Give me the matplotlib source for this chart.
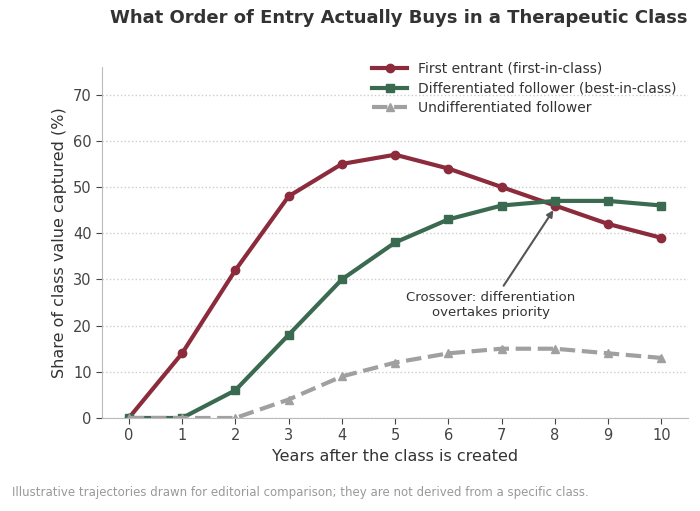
import matplotlib
matplotlib.use("Agg")
import matplotlib.pyplot as plt

years = list(range(11))
first_entrant = [0, 14, 32, 48, 55, 57, 54, 50, 46, 42, 39]
diff_follower = [0, 0, 6, 18, 30, 38, 43, 46, 47, 47, 46]
undiff_follower = [0, 0, 0, 4, 9, 12, 14, 15, 15, 14, 13]

fig = plt.figure(figsize=(7, 5.11), dpi=100)
ax = fig.add_axes([0.146, 0.182, 0.837, 0.687])

ax.plot(years, first_entrant, color="#8B2B3C", lw=3, marker="o", ms=6,
        label="First entrant (first-in-class)")
ax.plot(years, diff_follower, color="#3A6A50", lw=3, marker="s", ms=6,
        label="Differentiated follower (best-in-class)")
ax.plot(years, undiff_follower, color="#A0A0A0", lw=3, ls="--", marker="^", ms=6,
        label="Undifferentiated follower")

ax.set_xlim(-0.5, 10.5)
ax.set_ylim(0, 76)
ax.set_xticks(years)
ax.set_yticks(range(0, 80, 10))
ax.grid(axis="y", ls=":", color="#CCCCCC", lw=1)
for s in ["top", "right"]:
    ax.spines[s].set_visible(False)
for s in ["left", "bottom"]:
    ax.spines[s].set_color("#BBBBBB")
ax.tick_params(colors="#444444", labelsize=10.5, length=4)
ax.set_xlabel("Years after the class is created", fontsize=11.5, color="#333333")
ax.set_ylabel("Share of class value captured (%)", fontsize=11.5, color="#333333")

ax.annotate("Crossover: differentiation\novertakes priority", xy=(8, 45.5),
            xytext=(6.8, 24.5), ha="center", va="center", fontsize=9.5, color="#333333",
            arrowprops=dict(arrowstyle="-|>", color="#555555", lw=1.5))

ax.legend(loc="upper left", bbox_to_anchor=(0.44, 1.05), frameon=False, fontsize=10,
          handlelength=2.5, labelcolor="#333333", labelspacing=0.4)

fig.text(0.57, 0.955, "What Order of Entry Actually Buys in a Therapeutic Class",
         ha="center", fontsize=13, fontweight="bold", color="#333333")
fig.text(0.017, 0.03, "Illustrative trajectories drawn for editorial comparison; they are not derived from a specific class.",
         fontsize=8.5, color="#999999")

fig.savefig("out.png", dpi=100)
